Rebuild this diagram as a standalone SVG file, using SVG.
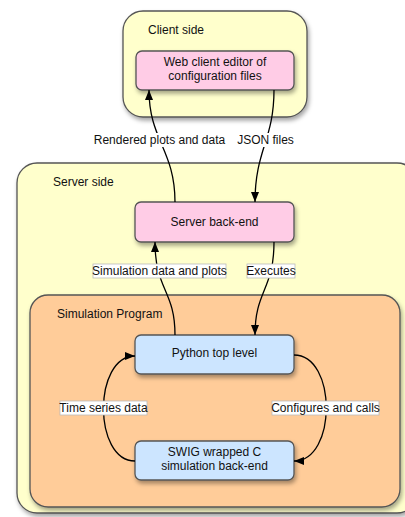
<svg xmlns="http://www.w3.org/2000/svg" width="405" height="517" viewBox="0 0 405 517">
<defs>
<filter id="sh" x="-10%" y="-10%" width="130%" height="140%">
<feDropShadow dx="1.5" dy="3" stdDeviation="2" flood-color="#000" flood-opacity="0.35"/>
</filter>
<marker id="arr" viewBox="0 0 10 8" refX="10" refY="4" markerWidth="10" markerHeight="8" markerUnits="userSpaceOnUse" orient="auto">
<path d="M0,0 L10,4 L0,8 Z" fill="#000"/>
</marker>
</defs>
<style>
text{font-family:"Liberation Sans",Arial,sans-serif;font-size:12px;fill:#111}
.c{text-anchor:middle}
.grp{stroke:#555;stroke-width:1.3}
.yel{fill:#ffffcc}
.pch{fill:#ffcc99}
.pink{fill:#ffcce6;stroke:#555;stroke-width:1.3}
.blue{fill:#cce5ff;stroke:#555;stroke-width:1.3}
.edge{fill:none;stroke:#000;stroke-width:1.3}
.lb{fill:#fff;stroke:#bbb;stroke-width:0.8}
.lbn{fill:#fff}
</style>
<g id="client-side">
<rect class="grp yel" x="123" y="11" width="184" height="106" rx="20" filter="url(#sh)"/>
<text x="148" y="34">Client side</text>
</g>
<g id="server-side">
<rect class="grp yel" x="17" y="163" width="400" height="350" rx="20" filter="url(#sh)"/>
<text x="53" y="186">Server side</text>
</g>
<g id="simulation-program">
<rect class="grp pch" x="30" y="295" width="370" height="212" rx="18" filter="url(#sh)"/>
<text x="57" y="318">Simulation Program</text>
</g>
<g id="web-client">
<rect class="pink" x="136" y="51" width="158" height="39" rx="6" filter="url(#sh)"/>
<text class="c" x="215" y="66">Web client editor of</text>
<text class="c" x="215" y="80">configuration files</text>
</g>
<g id="server-backend">
<rect class="pink" x="135" y="202" width="159" height="40" rx="6" filter="url(#sh)"/>
<text class="c" x="214.5" y="226">Server back-end</text>
</g>
<g id="python-top">
<rect class="blue" x="135" y="335" width="159" height="39" rx="6" filter="url(#sh)"/>
<text class="c" x="214.5" y="357">Python top level</text>
</g>
<g id="swig-backend">
<rect class="blue" x="135" y="441" width="159" height="39" rx="6" filter="url(#sh)"/>
<text class="c" x="214.5" y="456">SWIG wrapped C</text>
<text class="c" x="214.5" y="470">simulation back-end</text>
</g>
<g id="connectors">
<path class="edge" d="M175,202 C175,150 149,140 149,90" marker-end="url(#arr)"/>
<path class="edge" d="M274,90 C274,140 255,150 255,202" marker-end="url(#arr)"/>
<path class="edge" d="M175,335 C175,290 155,290 155,242" marker-end="url(#arr)"/>
<path class="edge" d="M274,242 C274,290 255,290 255,335" marker-end="url(#arr)"/>
<path class="edge" d="M294,355 C337,355 337,461 294,461" marker-end="url(#arr)"/>
<path class="edge" d="M135,461 C93,461 93,356 135,356" marker-end="url(#arr)"/>
<rect class="lbn" x="95" y="133" width="129" height="14"/>
<text class="c" x="159.5" y="144">Rendered plots and data</text>
<rect class="lbn" x="238" y="133" width="55" height="14"/>
<text class="c" x="265.5" y="144">JSON files</text>
<rect class="lb" x="93" y="264" width="133" height="14"/>
<text class="c" x="159.5" y="275">Simulation data and plots</text>
<rect class="lb" x="247" y="264" width="48" height="14"/>
<text class="c" x="271" y="275">Executes</text>
<rect class="lb" x="60" y="401" width="87" height="14"/>
<text class="c" x="103.5" y="412">Time series data</text>
<rect class="lb" x="272" y="401" width="107" height="14"/>
<text class="c" x="325.5" y="412">Configures and calls</text>
</g>
</svg>
